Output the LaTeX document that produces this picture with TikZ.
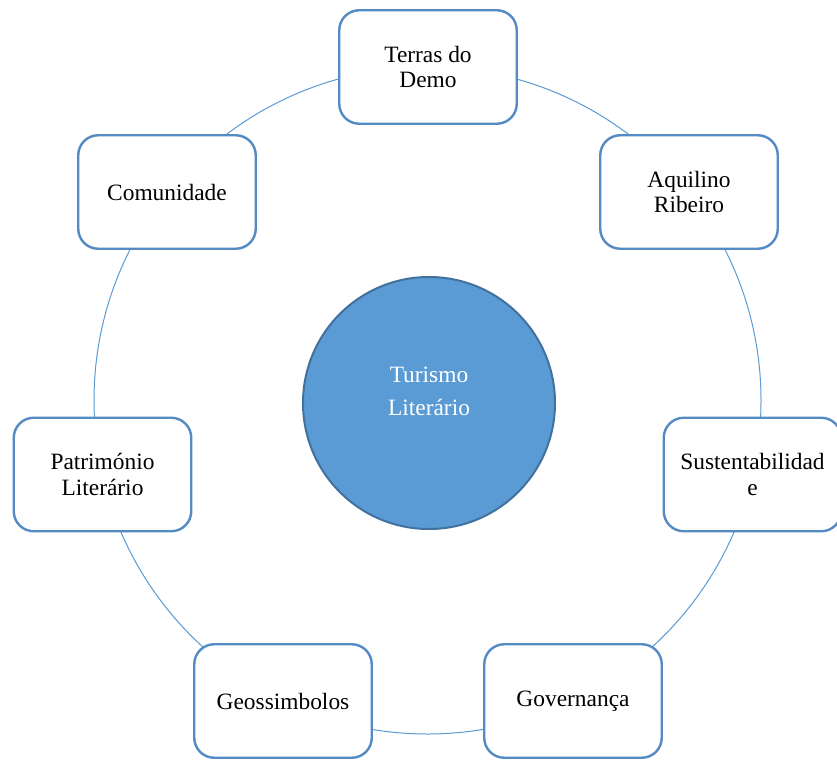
\documentclass[tikz,border=0pt]{standalone}
\usepackage{fontspec}
\setmainfont{Liberation Serif}
\definecolor{boxline}{RGB}{84,139,196}
\definecolor{ringline}{RGB}{91,155,213}
\definecolor{hubfill}{RGB}{91,155,213}
\definecolor{hubline}{RGB}{65,113,156}
\tikzset{
  topicbox/.style={draw=boxline, line width=2.4pt, fill=white, rounded corners=20pt,
    minimum width=177.5pt, minimum height=113.5pt, align=center,
    font=\fontsize{23.4}{25.5}\selectfont, text=black, inner sep=0pt},
  ring/.style={draw=ringline, line width=1pt},
  hub/.style={draw=hubline, fill=hubfill, line width=2pt, circle, minimum size=252pt, inner sep=0pt},
  hubtext/.style={align=center, text=white, font=\fontsize{23.4}{33}\selectfont, inner sep=0pt}
}
\begin{document}
\begin{tikzpicture}[x=1pt,y=1pt]
\useasboundingbox (0,0) rectangle (837,-760);
\fill[white] (0,0) rectangle (837,-760);
\coordinate (ringc) at (427.5,-400.5);
\draw[ring] (ringc) circle[radius=333.5];
\node[hub] (hub) at (429,-403) {};
\node[hubtext] (hubt) at (429,-391) {Turismo\\Literário};
\node[topicbox] (terras) at (428,-67) {Terras do\\Demo};
\node[topicbox] (aquilino) at (689,-192) {Aquilino\\Ribeiro};
\node[topicbox] (sust) at (752.5,-474.5) {Sustentabilidad\\e};
\node[topicbox] (gov) at (573,-701) {Governança};
\node[topicbox] (geo) at (283,-701) {Geossimbolos};
\node[topicbox] (patr) at (102.5,-474.5) {Património\\Literário};
\node[topicbox] (comu) at (167,-192) {Comunidade};
\end{tikzpicture}
\end{document}
